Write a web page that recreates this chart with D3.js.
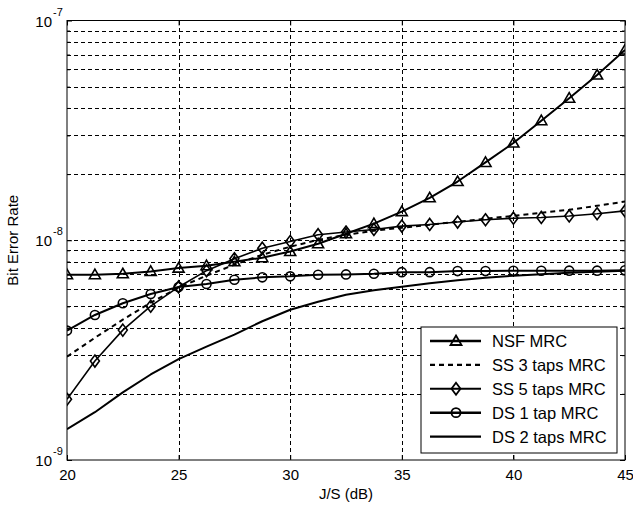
<!DOCTYPE html>
<html><head><meta charset="utf-8">
<script src="https://cdn.jsdelivr.net/npm/d3@7/dist/d3.min.js"></script>
<style>
body{margin:0;background:#fff}
svg{display:block}
text{font-family:"Liberation Sans",Arial,sans-serif;fill:#000}
</style>
</head><body>
<svg id="chart" width="633" height="509"></svg>
<script>
// ---- data ----
const jsValues = [20,21.25,22.5,23.75,25,26.25,27.5,28.75,30,31.25,32.5,33.75,35,36.25,37.5,38.75,40,41.25,42.5,43.75,45];
const nsfMRC   = [6.97e-9,6.97e-9,7.04e-9,7.21e-9,7.47e-9,7.66e-9,7.98e-9,8.33e-9,8.89e-9,9.64e-9,1.07e-8,1.19e-8,1.35e-8,1.56e-8,1.85e-8,2.26e-8,2.77e-8,3.50e-8,4.43e-8,5.65e-8,7.34e-8];
const ss3MRC   = [2.95e-9,3.60e-9,4.35e-9,5.20e-9,6.08e-9,6.90e-9,7.74e-9,8.59e-9,9.34e-9,1.005e-8,1.059e-8,1.105e-8,1.14e-8,1.176e-8,1.214e-8,1.252e-8,1.292e-8,1.334e-8,1.376e-8,1.435e-8,1.50e-8];
const ss5MRC   = [1.89e-9,2.82e-9,3.90e-9,5.01e-9,6.13e-9,7.27e-9,8.24e-9,9.20e-9,9.87e-9,1.06e-8,1.09e-8,1.12e-8,1.16e-8,1.18e-8,1.21e-8,1.24e-8,1.26e-8,1.27e-8,1.29e-8,1.32e-8,1.36e-8];
const ds1MRC   = [3.88e-9,4.57e-9,5.17e-9,5.69e-9,6.13e-9,6.32e-9,6.61e-9,6.78e-9,6.85e-9,6.97e-9,6.99e-9,7.04e-9,7.16e-9,7.16e-9,7.24e-9,7.24e-9,7.26e-9,7.26e-9,7.27e-9,7.27e-9,7.30e-9];
const ds2MRC   = [1.38e-9,1.65e-9,2.03e-9,2.45e-9,2.88e-9,3.28e-9,3.72e-9,4.28e-9,4.83e-9,5.25e-9,5.65e-9,5.92e-9,6.15e-9,6.37e-9,6.58e-9,6.75e-9,6.90e-9,7.01e-9,7.12e-9,7.19e-9,7.27e-9];
const seriesNames = ["NSF MRC","SS 3 taps MRC","SS 5 taps MRC","DS 1 tap MRC","DS 2 taps MRC"];
const xTicks = [20,25,30,35,40,45];
const yTickExps = [-9,-8,-7];
const xLabel = "J/S (dB)";
const yLabel = "Bit Error Rate";

// ---- layout ----
const L = 67, R = 625, T = 20.5, B = 460;
const svg = d3.select("#chart");
const x = d3.scaleLinear().domain([20,45]).range([L,R]);
const y = d3.scaleLog().domain([1e-9,1e-7]).range([B,T]);

// grid
const minorVals = [];
[-9,-8].forEach(e=>{ for(let k=1;k<=9;k++){ if(!(k===1&&e===-9)) minorVals.push(k*Math.pow(10,e)); } });
const grid = svg.append("g").attr("stroke","#000").attr("stroke-width",1).attr("stroke-dasharray","4,3").attr("shape-rendering","crispEdges");
grid.selectAll("line.h").data(minorVals).join("line").attr("class","h")
  .attr("x1",L).attr("x2",R).attr("y1",d=>Math.round(y(d))+0.5).attr("y2",d=>Math.round(y(d))+0.5);
grid.selectAll("line.v").data(xTicks.slice(1,-1)).join("line").attr("class","v")
  .attr("y1",T).attr("y2",B).attr("x1",d=>Math.round(x(d))+0.5).attr("x2",d=>Math.round(x(d))+0.5);

// axes
const xAxis = d3.axisBottom(x).tickValues(xTicks).tickSizeInner(-5).tickSizeOuter(0).tickPadding(9).tickFormat(d3.format("d"));
const gx = svg.append("g").attr("transform",`translate(0,${B})`).call(xAxis);
gx.select(".domain").remove();
gx.selectAll("text").attr("font-size",15).attr("font-family","Liberation Sans, Arial, sans-serif");
gx.selectAll("line").attr("stroke","#000");
const gxt = svg.append("g").attr("transform",`translate(0,${T})`).call(d3.axisTop(x).tickValues(xTicks).tickSizeInner(-5).tickSizeOuter(0).tickFormat(""));
gxt.select(".domain").remove();

const yMajor = yTickExps.map(e=>Math.pow(10,e));
const gy = svg.append("g").attr("transform",`translate(${L},0)`).call(d3.axisLeft(y).tickValues(yMajor).tickSizeInner(-5).tickSizeOuter(0).tickFormat(""));
gy.select(".domain").remove();
const gyr = svg.append("g").attr("transform",`translate(${R},0)`).call(d3.axisRight(y).tickValues(yMajor).tickSizeInner(-5).tickSizeOuter(0).tickFormat(""));
gyr.select(".domain").remove();
const gyMinorL = svg.append("g").attr("transform",`translate(${L},0)`).call(d3.axisLeft(y).tickValues(minorVals.filter(v=>!yMajor.includes(v))).tickSizeInner(-3).tickSizeOuter(0).tickFormat(""));
gyMinorL.select(".domain").remove();
const gyMinorR = svg.append("g").attr("transform",`translate(${R},0)`).call(d3.axisRight(y).tickValues(minorVals.filter(v=>!yMajor.includes(v))).tickSizeInner(-3).tickSizeOuter(0).tickFormat(""));
gyMinorR.select(".domain").remove();

// y tick labels with superscripts
const ylab = svg.append("g");
yTickExps.forEach(e=>{
  const yy = y(Math.pow(10,e));
  ylab.append("text").attr("x",L-15).attr("y",yy+6).attr("text-anchor","end").attr("font-size",15).text("10");
  ylab.append("text").attr("x",L-14).attr("y",yy-5).attr("text-anchor","start").attr("font-size",11).text(String(e));
});

// axis labels
svg.append("text").attr("x",(L+R)/2).attr("y",499).attr("text-anchor","middle").attr("font-size",15).text(xLabel);
svg.append("text").attr("transform",`translate(18,${(T+B)/2}) rotate(-90)`).attr("text-anchor","middle").attr("font-size",15).text(yLabel);

// clip
svg.append("clipPath").attr("id","clip").append("rect").attr("x",L).attr("y",T).attr("width",R-L).attr("height",B-T);

// series
const series = [
  {name:seriesNames[0], vals:nsfMRC, dash:null, marker:"tri", w:2},
  {name:seriesNames[1], vals:ss3MRC, dash:"5,4", marker:null, w:2},
  {name:seriesNames[2], vals:ss5MRC, dash:null, marker:"dia", w:1.6},
  {name:seriesNames[3], vals:ds1MRC, dash:null, marker:"cir", w:2},
  {name:seriesNames[4], vals:ds2MRC, dash:null, marker:null, w:2}
];
const line = d3.line().x(d=>x(d[0])).y(d=>y(d[1]));
const plot = svg.append("g").attr("clip-path","url(#clip)");
function markerPath(type){
  if(type==="tri") return "M0,-5.5L5.5,4L-5.5,4Z";
  if(type==="dia") return "M0,-6L4.5,0L0,6L-4.5,0Z";
  if(type==="cir") return d3.symbol(d3.symbolCircle, 64)();
  return null;
}
series.slice().reverse().forEach(s=>{
  const pts = jsValues.map((v,i)=>[v,s.vals[i]]);
  plot.append("path").datum(pts).attr("d",line).attr("fill","none").attr("stroke","#000")
    .attr("stroke-width",s.w).attr("stroke-dasharray",s.dash).attr("stroke-linejoin","round");
  if(s.marker){
    plot.selectAll(null).data(pts).join("path").attr("d",markerPath(s.marker))
      .attr("transform",d=>`translate(${x(d[0])},${y(d[1])})`)
      .attr("fill","none").attr("stroke","#000").attr("stroke-width",1.6);
  }
});
// frame
svg.append("rect").attr("x",L).attr("y",T).attr("width",R-L).attr("height",B-T).attr("fill","none").attr("stroke","#000").attr("stroke-width",1);

// legend
const lg = svg.append("g");
const lx0 = 421, ly0 = 327, lw = 196, lh = 126;
lg.append("rect").attr("x",lx0).attr("y",ly0).attr("width",lw).attr("height",lh).attr("fill","#fff").attr("stroke","#000").attr("stroke-width",1);
series.forEach((s,i)=>{
  const yy = 341 + i*23.9;
  lg.append("line").attr("x1",430).attr("x2",481).attr("y1",yy).attr("y2",yy).attr("stroke","#000").attr("stroke-width",s.w+0.4).attr("stroke-dasharray",s.dash);
  if(s.marker) lg.append("path").attr("d",markerPath(s.marker)).attr("transform",`translate(456,${yy})`).attr("fill","none").attr("stroke","#000").attr("stroke-width",1.8);
  lg.append("text").attr("x",492).attr("y",yy+6).attr("font-size",16.5).text(s.name);
});
</script>
</body></html>
